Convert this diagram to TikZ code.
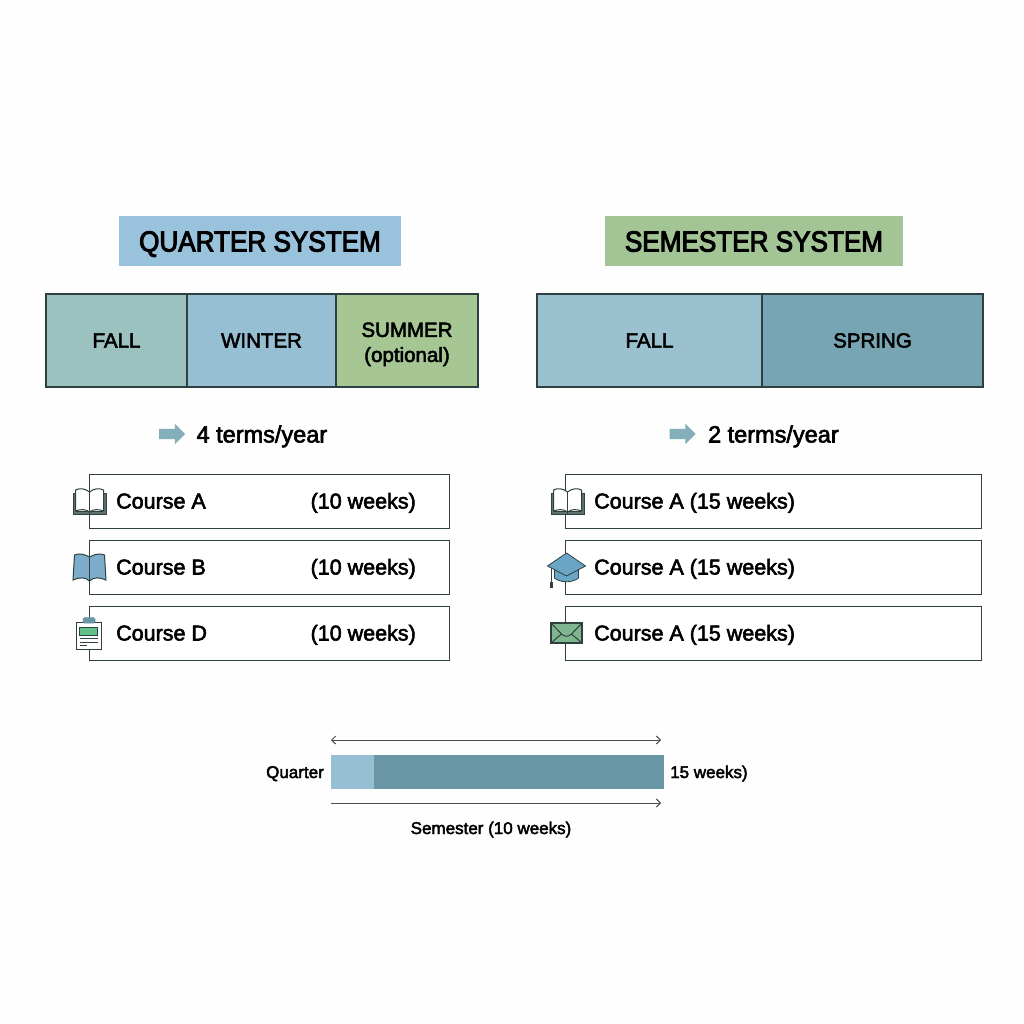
\documentclass[tikz,border=0pt]{standalone}
\usepackage{fontspec}
\setmainfont[FakeBold=2.6]{Liberation Sans}
\newfontfamily\titlefont[FakeBold=3.4,FakeStretch=0.9]{Liberation Sans}
\usepackage{xcolor}
\usetikzlibrary{positioning,shapes.arrows,arrows.meta}

\definecolor{pagewhite}{HTML}{FDFEFD}
\definecolor{inkline}{HTML}{2F4040}
\definecolor{fallgreen}{HTML}{9CC2BF}
\definecolor{winterblue}{HTML}{97BFD4}
\definecolor{summergreen}{HTML}{A6C693}
\definecolor{fallblue}{HTML}{9BC1D1}
\definecolor{springteal}{HTML}{78A5B3}
\definecolor{darkteal}{HTML}{6A97A5}
\definecolor{titleblue}{HTML}{99C3DC}
\definecolor{titlegreen}{HTML}{A3C596}
\definecolor{markgreen}{HTML}{7FB58F}
\definecolor{capblue}{HTML}{6AA5C6}
\definecolor{bookblue}{HTML}{7DADCB}
\definecolor{slipgreen}{HTML}{62C08A}

\tikzset{
  title node/.style={font=\titlefont\fontsize{29}{34}\selectfont,inner sep=0pt,minimum height=50pt,text height=26pt,text depth=5pt},
  term node/.style={draw=inkline,line width=1.2pt,inner sep=0pt,outer sep=0pt,minimum height=93pt,
    font=\fontsize{20.5}{24}\selectfont,align=center},
  count node/.style={font=\fontsize{23.5}{28}\selectfont,inner sep=0pt,anchor=west,text height=22pt,text depth=5pt},
  count arrow/.style={single arrow,fill=springteal!90,minimum width=20pt,minimum height=26pt,
    single arrow head extend=5pt,inner sep=0pt,text height=10pt,text width=0pt},
  row node/.style={draw=inkline,line width=1pt,fill=white,inner sep=0pt,outer sep=0pt,minimum height=54pt},
  course node/.style={font=\fontsize{21.5}{26}\selectfont,inner sep=0pt,text height=20pt,text depth=5pt},
  small node/.style={font=\fontsize{17}{20}\selectfont,inner sep=0pt,text height=16pt,text depth=4pt},
  span line/.style={draw=black!70,line width=1pt,>={Straight Barb[length=4pt,width=8pt]}},
  book/.pic={
    \fill[inkline!75,draw=inkline] (-16.5,-8) -- (-16.5,13) -- (16.5,13) -- (16.5,-8) -- (13,-8) -- (13,10) -- (-13,10) -- (-13,-8) -- cycle;
    \filldraw[fill=#1,draw=inkline,line width=1pt] (0,11) .. controls (-4,8) and (-9,8) .. (-14,10) -- (-14,-11) .. controls (-10,-13) and (-5,-13) .. (0,-9)
      .. controls (5,-13) and (10,-13) .. (14,-11) -- (14,10) .. controls (9,8) and (4,8) .. (0,11) -- cycle;
    \draw[inkline,line width=1pt] (0,-9) -- (0,14);
  },
  bluebook/.pic={
    \filldraw[fill=bookblue,draw=inkline,line width=1pt] (0,-10) .. controls (-5,-13) and (-11,-14) .. (-15,-12) -- (-16.5,13) .. controls (-10,10) and (-4,10) .. (0,14)
      .. controls (4,10) and (10,10) .. (16.5,13) -- (15,-12) .. controls (11,-14) and (5,-13) .. (0,-10) -- cycle;
    \draw[inkline,line width=.8pt] (0,-10) -- (0,14);
  },
  clipboard/.pic={
    \filldraw[fill=white,draw=inkline,line width=1pt] (-12.5,-11) rectangle (12.5,16);
    \filldraw[fill=darkteal,draw=darkteal,line width=.5pt,rounded corners=1.5pt] (-6,-15.5) rectangle (6,-10);
    \filldraw[fill=slipgreen,draw=inkline,line width=.6pt] (-9.5,-6) rectangle (8,2);
    \draw[inkline,line width=1pt] (-9,5.5) -- (9,5.5) (-9,9) -- (9,9) (-9,12.5) -- (-2,12.5);
  },
  gradcap/.pic={
    \filldraw[fill=capblue,draw=inkline,line width=.8pt] (-12,1) -- (-12,11) .. controls (-6,16) and (6,16) .. (12,11) -- (12,1) -- cycle;
    \filldraw[fill=capblue,draw=inkline,line width=.8pt] (-19,-1) -- (0,-14) -- (19,-1) -- (0,9) -- cycle;
    \draw[inkline,line width=1pt] (-15,1) -- (-15,15);
    \fill[inkline] (-16.5,15) rectangle (-13.5,21);
  },
  mail/.pic={
    \filldraw[fill=markgreen,draw=inkline,line width=1.1pt] (-15.5,-10) rectangle (15.5,10);
    \draw[inkline,line width=1pt] (-15.5,-10) -- (-5,1) .. controls (-2,4) and (2,4) .. (5,1) -- (15.5,-10)
      (-15.5,10) -- (-5,1) (15.5,10) -- (5,1);
  }
}

\begin{document}
\begin{tikzpicture}[x=1pt,y=-1pt]
  \useasboundingbox[fill=pagewhite] (0,0) rectangle (1024,1024);

  % headings
  \node[title node,fill=titleblue,minimum width=282pt] (quarter) at (260,241) {QUARTER SYSTEM};
  \node[title node,fill=titlegreen,minimum width=298pt] (semester) at (754,241) {SEMESTER SYSTEM};

  % term bars
  \node[term node,fill=fallgreen,minimum width=141pt] (qfall) at (116.5,340.5) {FALL};
  \node[term node,fill=winterblue,minimum width=149pt,right=0pt of qfall] (qwinter) {WINTER};
  \node[term node,fill=summergreen,minimum width=142pt,right=0pt of qwinter] (qsummer) {\rule{0pt}{22pt}SUMMER\\[1pt](optional)};
  \node[term node,fill=fallblue,minimum width=225pt] (sfall) at (649.5,340.5) {FALL};
  \node[term node,fill=springteal,minimum width=221pt,right=0pt of sfall] (sspring) {SPRING};

  % terms per year
  \node[count arrow] (qarrow) at (169.5,434) {};
  \node[count node,right=11pt of qarrow] (qcount) {4 terms/year};
  \node[count arrow] (sarrow) at (680,434) {};
  \node[count node,right=12pt of sarrow] (scount) {2 terms/year};

  % quarter courses
  \node[row node,minimum width=360pt] (qrow1) at (269,501) {};
  \node[row node,minimum width=360pt] (qrow2) at (269,567) {};
  \node[row node,minimum width=360pt] (qrow3) at (269,633) {};
  \node[course node,right=27pt of qrow1.west] (qname1) {Course A};
  \node[course node,right=27pt of qrow2.west] (qname2) {Course B};
  \node[course node,right=27pt of qrow3.west] (qname3) {Course D};
  \node[course node,left=33pt of qrow1.east] (qweeks1) {(10 weeks)};
  \node[course node,left=33pt of qrow2.east] (qweeks2) {(10 weeks)};
  \node[course node,left=33pt of qrow3.east] (qweeks3) {(10 weeks)};

  % semester courses
  \node[row node,minimum width=416pt] (srow1) at (773,501) {};
  \node[row node,minimum width=416pt] (srow2) at (773,567) {};
  \node[row node,minimum width=416pt] (srow3) at (773,633) {};
  \node[course node,right=29pt of srow1.west] (sname1) {Course A (15 weeks)};
  \node[course node,right=29pt of srow2.west] (sname2) {Course A (15 weeks)};
  \node[course node,right=29pt of srow3.west] (sname3) {Course A (15 weeks)};

  % icons
  \pic at (89.5,501) {book=white};
  \pic at (89.5,567) {bluebook};
  \pic at (89,633) {clipboard};
  \pic at (567.5,501) {book=white};
  \pic at (566.5,567) {gradcap};
  \pic at (566.5,633) {mail};

  % length comparison
  \node[fill=winterblue,inner sep=0pt,outer sep=0pt,minimum width=43pt,minimum height=34pt] (shortbar) at (352.5,772) {};
  \node[fill=darkteal,inner sep=0pt,outer sep=0pt,minimum width=290pt,minimum height=34pt,right=0pt of shortbar] (longbar) {};
  \node[small node,left=7pt of shortbar] (quarterlabel) {Quarter};
  \node[small node,right=6pt of longbar] (weekslabel) {15 weeks)};
  \coordinate (topleft) at (331,740);
  \coordinate (topright) at (661,740);
  \coordinate (lowleft) at (331,803);
  \coordinate (lowright) at (661,803);
  \node[small node] (semesterlabel) at (491,828) {Semester (10 weeks)};

  \path[span line]
    (topleft) edge[<->] (topright)
    (lowleft) edge[->] (lowright);
\end{tikzpicture}
\end{document}
